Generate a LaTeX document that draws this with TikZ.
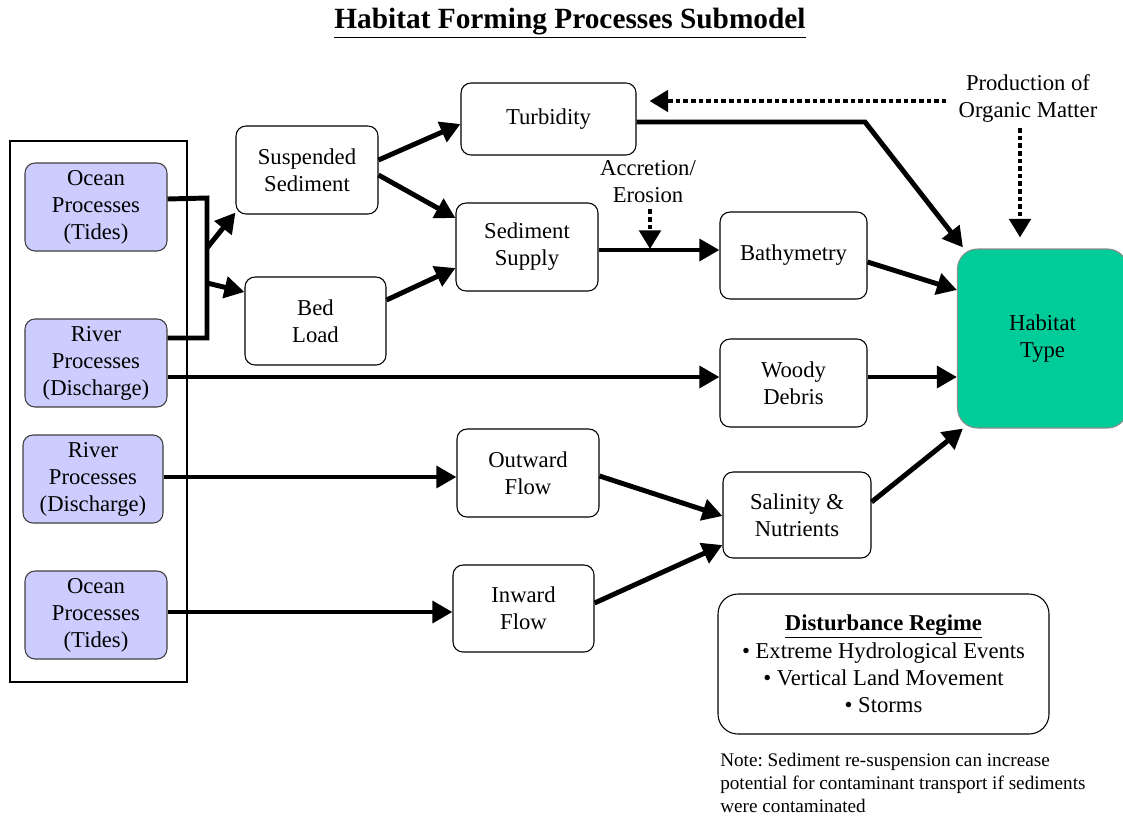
\documentclass[tikz,border=0pt]{standalone}
\usepackage{fontspec}
\setmainfont{Liberation Serif}
\usetikzlibrary{arrows.meta,calc}
\definecolor{lav}{HTML}{CCCCFF}
\definecolor{hab}{HTML}{00CC99}
\frenchspacing
\begin{document}
\begin{tikzpicture}[x=0.75pt,y=-0.75pt,
  box/.style={draw=black,line width=0.8pt,rounded corners=7.5pt,align=center,inner sep=0pt,
    font=\fontsize{17}{20.3}\selectfont,minimum width=106.5pt,minimum height=66pt},
  src/.style={box,fill=lav,draw=black!75},
  arr/.style={line width=3.7pt,-{Triangle[length=15pt,width=16pt]}},
  ln/.style={line width=3.7pt},
  dot/.style={line width=3.2pt,dash pattern=on 3.5pt off 2.2pt,-{Triangle[length=14pt,width=16pt]}},
  lbl/.style={align=center,font=\fontsize{17}{20.3}\selectfont,inner sep=0pt}]
\useasboundingbox (0,0) rectangle (1123,818);
% title
\node[font=\fontsize{22}{26}\selectfont\bfseries,inner sep=0pt] (title) at (570,23) {\underline{Habitat Forming Processes Submodel}};
% outer frame
\node[draw=black,line width=0.8pt,minimum width=132.75pt,minimum height=405.75pt,inner sep=0pt] (frame) at (98.5,411.5) {};
% source nodes
\node[src] (o1) at (96,207) {Ocean\\Processes\\(Tides)};
\node[src] (r1) at (96,363) {River\\Processes\\(Discharge)};
\node[src,minimum width=105pt] (r2) at (93,479) {River\\Processes\\(Discharge)};
\node[src] (o2) at (96,615) {Ocean\\Processes\\(Tides)};
% process nodes
\node[box] (ss) at (307,170) {Suspended\\Sediment};
\node[box,minimum width=105.75pt] (bl) at (315.5,321) {Bed\\Load};
\node[box,minimum width=131.25pt,minimum height=54pt] (tu) at (548.5,119) {Turbidity};
\node[box] (sd) at (527,247) {Sediment\\Supply};
\node[box,minimum width=110.25pt,minimum height=65.25pt] (ba) at (793.5,255.5) {Bathymetry};
\node[box,minimum width=110.25pt] (wd) at (793.5,383) {Woody\\Debris};
\node[box] (of) at (528,473) {Outward\\Flow};
\node[box,minimum width=105.75pt,minimum height=65.25pt] (if) at (523.5,608.5) {Inward\\Flow};
\node[box,minimum width=111pt,minimum height=64.5pt] (sa) at (797,515) {Salinity \&\\Nutrients};
\node[box,fill=hab,draw=black!45,rounded corners=15pt,minimum width=127.5pt,minimum height=134.25pt] (ht) at (1042.5,338.5) {Habitat\\Type};
% labels
\node[lbl] (po) at (1028,98) {Production of\\Organic Matter};
\node[lbl] (ae) at (648,182) {Accretion/\\Erosion};
\node[box,rounded corners=15pt,minimum width=248.25pt,minimum height=105pt,font=\fontsize{17}{20.6}\selectfont] (dr) at (883.5,664)
  {\textbf{\underline{Disturbance Regime}}\\\textbullet{} Extreme Hydrological Events\\\textbullet{} Vertical Land Movement\\\textbullet{} Storms};
\node[anchor=north west,align=left,inner sep=0pt,font=\fontsize{14.4}{17.2}\selectfont] (note) at (720,753)
  {Note: Sediment re-suspension can increase\\potential for contaminant transport if sediments\\were contaminated};
% coordinates
\coordinate (jt) at (207,198);
\coordinate (jb) at (207,338);
\coordinate (ja) at (207,248);
\coordinate (jc) at (207,283);
\coordinate (bend) at (865,122);
\coordinate (acc) at (650,249);
% left bracket
\draw[ln,line join=miter] ($(o1.east)+(0,-8)$) -- (jt) -- (jb) -- ($(r1.east)+(0,-25)$);
\draw[arr] (ja) -- ($(ss.south west)+(0,-2)$);
\draw[arr] (jc) -- ($(bl.west)+(0,-29)$);
% connectors
\draw[arr] ($(ss.east)+(0,-10)$) -- ($(tu.west)+(0,5)$);
\draw[arr] ($(ss.east)+(0,5)$) -- ($(sd.west)+(0,-29)$);
\draw[arr] ($(bl.east)+(0,-21)$) -- ($(sd.west)+(0,21)$);
\draw[arr,line join=miter] ($(tu.east)+(0,3)$) -- (bend) -- ($(ht.north west)+(6,-1)$);
\draw[arr] ($(sd.east)+(0,3)$) -- ($(ba.west)+(0,-5.5)$);
\draw[dot] (ae.south) ++(2,6) -- (acc);
\draw[dot] ($(po.west)+(-12,3)$) -- ($(tu.east)+(13,-18)$);
\draw[dot] ($(po.south)+(-8,6)$) -- ($(ht.north)+(-22.5,-11)$);
\draw[arr] ($(ba.east)+(0,6.5)$) -- ($(ht.west)+(0,-48.5)$);
\draw[arr] ($(r1.east)+(0,14)$) -- ($(wd.west)+(0,-6)$);
\draw[arr] ($(wd.east)+(0,-6)$) -- ($(ht.west)+(0,38.5)$);
\draw[arr] ($(r2.east)+(0,-2)$) -- ($(of.west)+(0,4)$);
\draw[arr] ($(o2.east)+(0,-3)$) -- ($(if.west)+(0,3.5)$);
\draw[arr] ($(of.east)+(0,3)$) -- ($(sa.west)+(0,1)$);
\draw[arr] ($(if.east)+(0,-5.5)$) -- ($(sa.west)+(0,30)$);
\draw[arr] ($(sa.east)+(0,-13)$) -- ($(ht.south west)+(6,0)$);
\end{tikzpicture}
\end{document}
